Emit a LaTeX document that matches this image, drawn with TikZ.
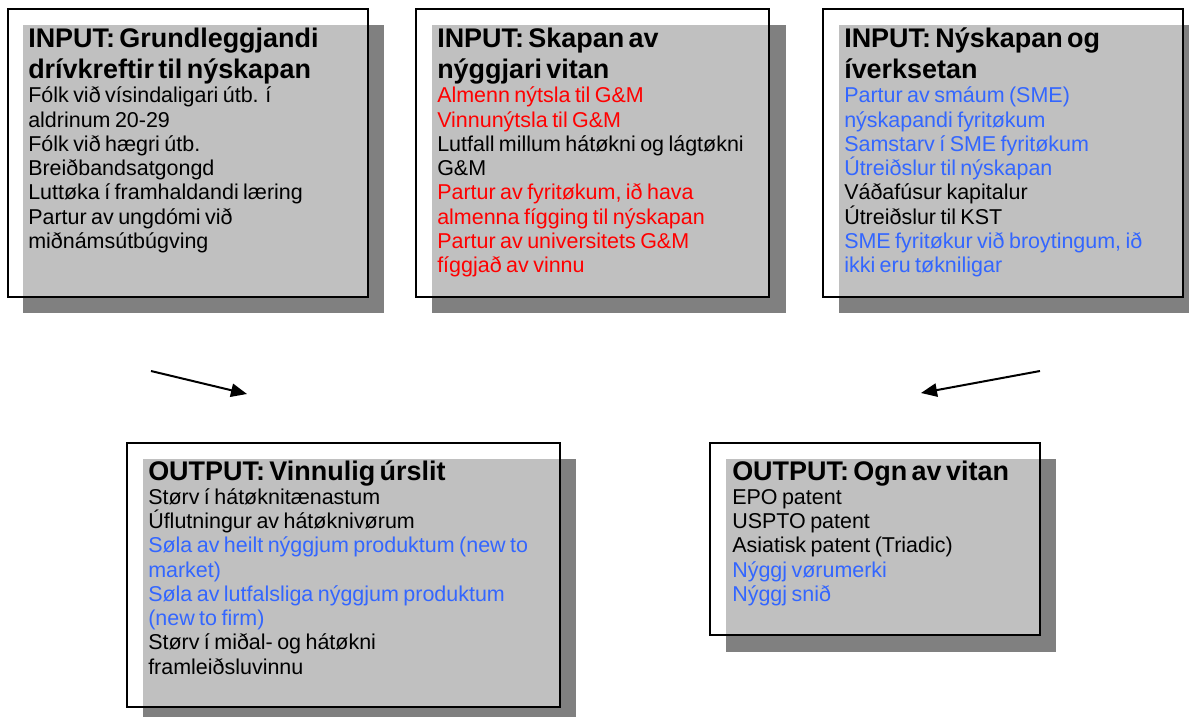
\documentclass[tikz,border=0pt]{standalone}
\usepackage{fontspec}
\setmainfont{Liberation Sans}
\usetikzlibrary{arrows.meta}
\definecolor{shadowc}{HTML}{808080}
\definecolor{overc}{HTML}{C0C0C0}
\definecolor{redt}{HTML}{FF0000}
\definecolor{bluet}{HTML}{3366FF}
\newcommand{\ttl}{\fontsize{20.2}{23}\selectfont\bfseries}
\newcommand{\bdy}{\par\fontsize{16.1}{18.2}\selectfont\mdseries}
\tikzset{
  frame/.style={draw=black,line width=1.3pt},
  shadow/.style={fill=shadowc},
  overlap/.style={fill=overc},
  boxtext/.style={anchor=base west,inner sep=0pt,text width=420pt,align=left},
  arr/.style={line width=1.5pt,-{Triangle[length=12pt,width=10pt]}}
}
\begin{document}
\begin{tikzpicture}[x=0.75pt,y=-0.75pt]
\useasboundingbox (0,0) rectangle (1189,717);
% shadows
\fill[shadow] (23,25) rectangle (384,313);
\fill[shadow] (432,25) rectangle (786,313);
\fill[shadow] (839,25) rectangle (1189,313);
\fill[shadow] (143,459) rectangle (576,717);
\fill[shadow] (726,459) rectangle (1056,652);
% overlaps
\fill[overlap] (23,25) rectangle (368,297);
\fill[overlap] (432,25) rectangle (769,297);
\fill[overlap] (839,25) rectangle (1183,297);
\fill[overlap] (143,459) rectangle (560,707);
\fill[overlap] (726,459) rectangle (1040,635);
% frames
\draw[frame] (8,9) rectangle (368,297);
\draw[frame] (416,9) rectangle (769,297);
\draw[frame] (823,9) rectangle (1183,297);
\draw[frame] (127,443) rectangle (560,707);
\draw[frame] (710,443) rectangle (1040,635);
% texts
\node[boxtext] (t1) at (28,48) {\ttl INPUT: Grundleggjandi\\drívkreftir til nýskapan\bdy
Fólk við vísindaligari útb. í\\aldrinum 20-29\\Fólk við hægri útb.\\Breiðbandsatgongd\\Luttøka í framhaldandi læring\\Partur av ungdómi við\\miðnámsútbúgving\par};
\node[boxtext] (t2) at (437,48) {\ttl INPUT: Skapan av\\nýggjari vitan\bdy
\textcolor{redt}{Almenn nýtsla til G\&M}\\\textcolor{redt}{Vinnunýtsla til G\&M}\\Lutfall millum hátøkni og lágtøkni\\G\&M\\\textcolor{redt}{Partur av fyritøkum, ið hava}\\\textcolor{redt}{almenna fígging til nýskapan}\\\textcolor{redt}{Partur av universitets G\&M}\\\textcolor{redt}{fíggjað av vinnu}\par};
\node[boxtext] (t3) at (844,48) {\ttl INPUT: Nýskapan og\\íverksetan\bdy
\textcolor{bluet}{Partur av smáum (SME)}\\\textcolor{bluet}{nýskapandi fyritøkum}\\\textcolor{bluet}{Samstarv í SME fyritøkum}\\\textcolor{bluet}{Útreiðslur til nýskapan}\\Váðafúsur kapitalur\\Útreiðslur til KST\\\textcolor{bluet}{SME fyritøkur við broytingum, ið}\\\textcolor{bluet}{ikki eru tøkniligar}\par};
\node[boxtext] (t4) at (148,480) {\ttl OUTPUT: Vinnulig úrslit\bdy
Størv í hátøknitænastum\\Úflutningur av hátøknivørum\\\textcolor{bluet}{Søla av heilt nýggjum produktum (new to}\\\textcolor{bluet}{market)}\\\textcolor{bluet}{Søla av lutfalsliga nýggjum produktum}\\\textcolor{bluet}{(new to firm)}\\Størv í miðal- og hátøkni\\framleiðsluvinnu\par};
\node[boxtext] (t5) at (732,480) {\ttl OUTPUT: Ogn av vitan\bdy
EPO patent\\USPTO patent\\Asiatisk patent (Triadic)\\\textcolor{bluet}{Nýggj vørumerki}\\\textcolor{bluet}{Nýggj snið}\par};
% arrows
\coordinate (a1s) at (151,371);
\coordinate (a1e) at (247,394);
\coordinate (a2s) at (1040,371);
\coordinate (a2e) at (921,393);
\draw[arr] (a1s) -- (a1e);
\draw[arr] (a2s) -- (a2e);
\end{tikzpicture}
\end{document}
